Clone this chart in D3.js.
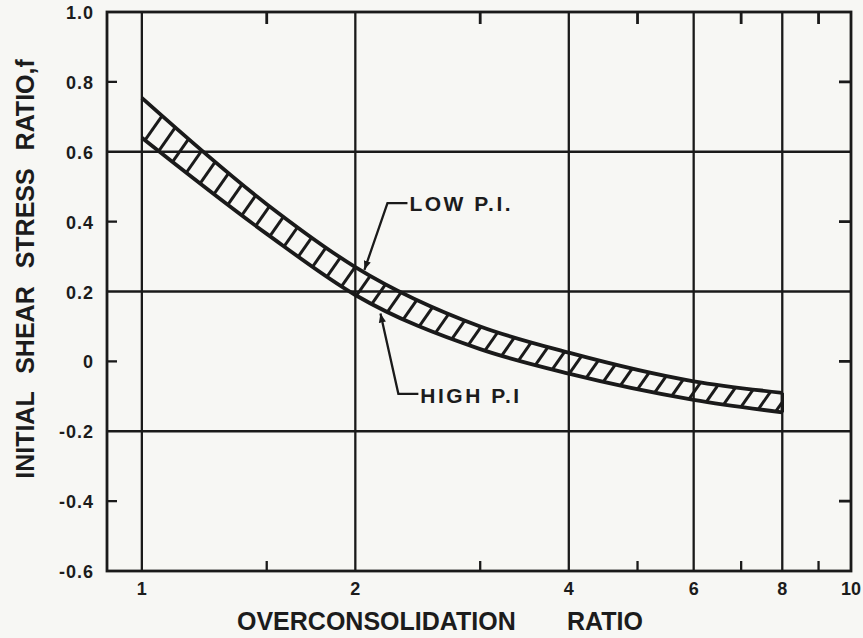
<!DOCTYPE html>
<html>
<head>
<meta charset="utf-8">
<script src="https://cdn.jsdelivr.net/npm/d3@7"></script>
<style>
  body { margin: 0; background: #f7f7f4; }
  text { font-family: "Liberation Sans", Arial, sans-serif; font-weight: bold; fill: #1c1c1c; }
</style>
</head>
<body>
<script>
// overconsolidation ratio (log axis)
var ocr = [1, 1.5, 2, 3, 4, 6, 8];
// upper bound of band - low plasticity
var lowPI = [0.754, 0.45, 0.27, 0.10, 0.025, -0.057, -0.09];
// lower bound of band - high plasticity
var highPI = [0.64, 0.365, 0.19, 0.035, -0.035, -0.11, -0.146];

var xTickVals = [1, 2, 4, 6, 8, 10];
var xTickText = ["1", "2", "4", "6", "8", "10"];
var xGrid = [1, 2, 4, 6, 8];
var xMinor = [1.5, 3, 5, 7, 9];
var yTickVals = [1.0, 0.8, 0.6, 0.4, 0.2, 0, -0.2, -0.4, -0.6];
var yTickText = ["1.0", "0.8", "0.6", "0.4", "0.2", "0", "-0.2", "-0.4", "-0.6"];
var yGrid = [0.6, 0.2, -0.2];
var yMinor = [0.8, 0.4, 0, -0.4];

// leader annotations: arrow tip, elbow (data units)
var notes = [
  {label: "LOW P.I.", tip: [2.06, 0.262], elbow: [2.22, 0.453], dy: 8},
  {label: "HIGH P.I", tip: [2.17, 0.137], elbow: [2.30, -0.093], dy: 9}
];

function draw() {
  var W = 863, H = 638;
  var mL = 107, mR = 851, mT = 12, mB = 571;
  var ink = "#1a1a1a";

  var svg = d3.select("body").append("svg")
      .attr("width", W).attr("height", H);

  svg.append("rect").attr("width", W).attr("height", H).attr("fill", "#f7f7f4");

  var x = d3.scaleLog().domain([0.893, 10]).range([mL, mR]);
  var y = d3.scaleLinear().domain([-0.6, 1.0]).range([mB, mT]);

  var g = svg.append("g");

  /* grid lines */
  g.selectAll(".vg").data(xGrid).enter().append("line")
      .attr("x1", d => x(d)).attr("x2", d => x(d))
      .attr("y1", mT).attr("y2", mB)
      .attr("stroke", ink).attr("stroke-width", 2.3);
  g.selectAll(".hg").data(yGrid).enter().append("line")
      .attr("x1", mL).attr("x2", mR)
      .attr("y1", d => y(d)).attr("y2", d => y(d))
      .attr("stroke", ink).attr("stroke-width", 2.3);

  /* minor ticks, inside the frame */
  g.selectAll(".tb").data(xMinor).enter().append("line")
      .attr("x1", d => x(d)).attr("x2", d => x(d))
      .attr("y1", mB).attr("y2", mB - 10)
      .attr("stroke", ink).attr("stroke-width", 2.3);
  g.selectAll(".tt").data(xMinor).enter().append("line")
      .attr("x1", d => x(d)).attr("x2", d => x(d))
      .attr("y1", mT).attr("y2", mT + 12)
      .attr("stroke", ink).attr("stroke-width", 2.8);
  g.selectAll(".tl").data(yMinor).enter().append("line")
      .attr("x1", mL).attr("x2", mL + 10)
      .attr("y1", d => y(d)).attr("y2", d => y(d))
      .attr("stroke", ink).attr("stroke-width", 2.3);
  g.selectAll(".tr").data(yMinor).enter().append("line")
      .attr("x1", mR).attr("x2", mR - 12)
      .attr("y1", d => y(d)).attr("y2", d => y(d))
      .attr("stroke", ink).attr("stroke-width", 2.8);

  /* frame */
  g.append("rect")
      .attr("x", mL).attr("y", mT)
      .attr("width", mR - mL).attr("height", mB - mT)
      .attr("fill", "none").attr("stroke", ink).attr("stroke-width", 2.8);

  /* tick labels */
  g.selectAll(".xl").data(xTickVals).enter().append("text")
      .attr("x", d => x(d)).attr("y", 595)
      .attr("text-anchor", "middle")
      .style("font-size", "18px")
      .text((d, i) => xTickText[i]);
  g.selectAll(".yl").data(yTickVals).enter().append("text")
      .attr("x", 94).attr("y", d => y(d) + 7)
      .attr("text-anchor", "end")
      .style("font-size", "18px")
      .style("letter-spacing", "1px")
      .text((d, i) => yTickText[i]);

  /* axis titles */
  g.append("text").attr("x", 237).attr("y", 630)
      .style("font-size", "25px").text("OVERCONSOLIDATION");
  g.append("text").attr("x", 567).attr("y", 630)
      .style("font-size", "25px").text("RATIO");
  g.append("text")
      .attr("transform", "translate(34,269) rotate(-90)")
      .attr("text-anchor", "middle")
      .style("font-size", "25px")
      .style("word-spacing", "11px")
      .text("INITIAL SHEAR STRESS RATIO,f");

  /* band */
  var band = ocr.map((d, i) => ({x: d, lo: highPI[i], hi: lowPI[i]}));

  var area = d3.area().curve(d3.curveMonotoneX)
      .x(d => x(d.x)).y0(d => y(d.lo)).y1(d => y(d.hi));
  var lineHi = d3.line().curve(d3.curveMonotoneX).x(d => x(d.x)).y(d => y(d.hi));
  var lineLo = d3.line().curve(d3.curveMonotoneX).x(d => x(d.x)).y(d => y(d.lo));

  svg.append("clipPath").attr("id", "bandclip")
      .append("path").datum(band).attr("d", area);

  // hidden path used to space the hatch lines along the band
  var guide = g.append("path").datum(band).attr("d", lineLo)
      .attr("fill", "none").attr("stroke", "none");
  var gn = guide.node(), glen = gn.getTotalLength();
  var hatchPts = d3.range(4, glen, 17.5).map(s => gn.getPointAtLength(s));
  var ang = 55 * Math.PI / 180, hl = 50;

  g.append("g").attr("clip-path", "url(#bandclip)")
    .selectAll("line").data(hatchPts).enter().append("line")
      .attr("x1", p => p.x - hl * Math.cos(ang)).attr("y1", p => p.y + hl * Math.sin(ang))
      .attr("x2", p => p.x + hl * Math.cos(ang)).attr("y2", p => p.y - hl * Math.sin(ang))
      .attr("stroke", ink).attr("stroke-width", 3);

  g.append("path").datum(band).attr("d", lineHi)
      .attr("fill", "none").attr("stroke", ink).attr("stroke-width", 3.8);
  g.append("path").datum(band).attr("d", lineLo)
      .attr("fill", "none").attr("stroke", ink).attr("stroke-width", 3.8);
  // closing end at OCR = 8
  var last = band[band.length - 1];
  g.append("line")
      .attr("x1", x(last.x)).attr("x2", x(last.x))
      .attr("y1", y(last.hi)).attr("y2", y(last.lo))
      .attr("stroke", ink).attr("stroke-width", 3.4);

  /* leaders */
  svg.append("defs").append("marker")
      .attr("id", "arr").attr("viewBox", "0 0 10 10")
      .attr("refX", 10).attr("refY", 5)
      .attr("markerWidth", 9).attr("markerHeight", 9)
      .attr("markerUnits", "userSpaceOnUse")
      .attr("orient", "auto")
    .append("path").attr("d", "M0,1 L10,5 L0,9 Z").attr("fill", ink);

  notes.forEach(function(n) {
    var ex = x(n.elbow[0]), ey = y(n.elbow[1]);
    g.append("path")
        .attr("d", "M" + (ex + 20) + "," + ey + " L" + ex + "," + ey +
                   " L" + x(n.tip[0]) + "," + y(n.tip[1]))
        .attr("fill", "none").attr("stroke", ink).attr("stroke-width", 2.3)
        .attr("marker-end", "url(#arr)");
    g.append("text")
        .attr("x", ex + 22).attr("y", ey + n.dy)
        .style("font-size", "21px")
        .style("letter-spacing", "2.5px")
        .text(n.label);
  });
}

draw();
</script>
</body>
</html>
